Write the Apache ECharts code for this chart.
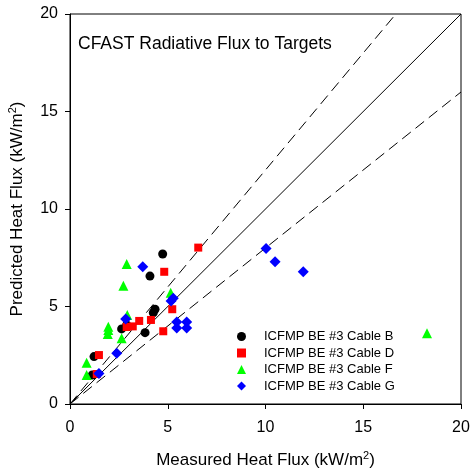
<!DOCTYPE html>
<html><head><meta charset="utf-8">
<script src="https://cdn.jsdelivr.net/npm/echarts@6/dist/echarts.min.js"></script>
<style>html,body{margin:0;padding:0;background:#fff}#c{width:473px;height:473px}</style>
</head><body><div id="c"></div>
<script>
const cableB = [[4.74,7.69],[4.09,6.56],[4.35,4.86],[4.26,4.68],[3.84,3.66],[2.64,3.85],[2.9,4.05],[1.23,2.43],[1.14,1.49]];
const cableD = [[6.56,8.02],[4.82,6.78],[5.23,4.86],[4.14,4.31],[3.54,4.26],[3.21,3.98],[2.90,3.95],[4.77,3.73],[1.48,2.51],[1.37,1.54]];
const cableF = [[2.90,7.18],[2.73,6.07],[5.15,5.71],[2.93,4.56],[1.96,3.96],[1.96,3.79],[1.93,3.59],[2.64,3.37],[0.85,2.12],[0.85,1.49],[18.26,3.63]];
const cableG = [[3.72,7.04],[5.28,5.42],[5.17,5.28],[2.85,4.36],[5.46,4.21],[5.46,3.90],[5.97,4.21],[5.97,3.90],[2.39,2.60],[1.48,1.57],[10.03,7.98],[10.49,7.30],[11.93,6.78]];
const seriesNames = ['ICFMP BE #3 Cable B','ICFMP BE #3 Cable D','ICFMP BE #3 Cable F','ICFMP BE #3 Cable G'];
const ticks = [0,5,10,15,20];
const lineEqual = [[0,0],[20,20]];
const lineUpper = [[0,0],[16.667,20]];
const lineLower = [[0,0],[20,16]];

const font = 'Liberation Sans, Arial, sans-serif';
const chart = echarts.init(document.getElementById('c'));
const nameRich = {
  a:{fontSize:17,fontFamily:font,color:'#000'},
  s:{fontSize:11,fontFamily:font,color:'#000',verticalAlign:'top',padding:[0,0,9,0]}
};
chart.setOption({
  animation:false,
  backgroundColor:'#fff',
  title:{text:'CFAST Radiative Flux to Targets',left:73,top:30,textStyle:{fontSize:17.5,fontWeight:'normal',fontFamily:font,color:'#000'}},
  grid:{left:70,right:12,top:14,bottom:69,show:true,borderColor:'#000',borderWidth:1,outerBoundsMode:'none',containLabel:false},
  legend:{orient:'vertical',left:232,top:325,itemGap:3.5,itemWidth:9,itemHeight:9,
    textStyle:{fontSize:13,fontFamily:font,color:'#000',padding:[0,0,0,13]},
    data:seriesNames.map(n=>({name:n}))},
  xAxis:{type:'value',min:0,max:20,interval:5,
    name:'{a|Measured Heat Flux (kW/m}{s|2}{a|)}',nameLocation:'middle',nameGap:46,
    nameTextStyle:{rich:nameRich},
    axisLine:{lineStyle:{color:'#000'}},axisTick:{show:true,length:5,lineStyle:{color:'#000'}},
    axisLabel:{fontSize:16,fontFamily:font,color:'#000',margin:16},splitLine:{show:false}},
  yAxis:{type:'value',min:0,max:20,interval:5,
    name:'{a|Predicted Heat Flux (kW/m}{s|2}{a|)}',nameLocation:'middle',nameGap:43,
    nameTextStyle:{rich:nameRich},
    axisLine:{lineStyle:{color:'#000'}},axisTick:{show:true,length:5,lineStyle:{color:'#000'}},
    axisLabel:{fontSize:16,fontFamily:font,color:'#000',margin:12},splitLine:{show:false}},
  series:[
    {type:'line',data:lineEqual,symbol:'none',lineStyle:{color:'#000',width:1},silent:true,z:1},
    {type:'line',data:lineUpper,symbol:'none',lineStyle:{color:'#000',width:1,type:[11,6]},silent:true,z:1},
    {type:'line',data:lineLower,symbol:'none',lineStyle:{color:'#000',width:1,type:[11,6]},silent:true,z:1},
    {name:seriesNames[0],type:'scatter',data:cableB,symbol:'circle',symbolSize:9,itemStyle:{color:'#000',opacity:1},z:3},
    {name:seriesNames[1],type:'scatter',data:cableD,symbol:'rect',symbolSize:8,itemStyle:{color:'#ff0000',opacity:1},z:4},
    {name:seriesNames[2],type:'scatter',data:cableF,symbol:'triangle',symbolSize:10,itemStyle:{color:'#00ff00',opacity:1},z:5},
    {name:seriesNames[3],type:'scatter',data:cableG,symbol:'diamond',symbolSize:11,itemStyle:{color:'#0000ff',opacity:1},z:6}
  ]
});
</script></body></html>
